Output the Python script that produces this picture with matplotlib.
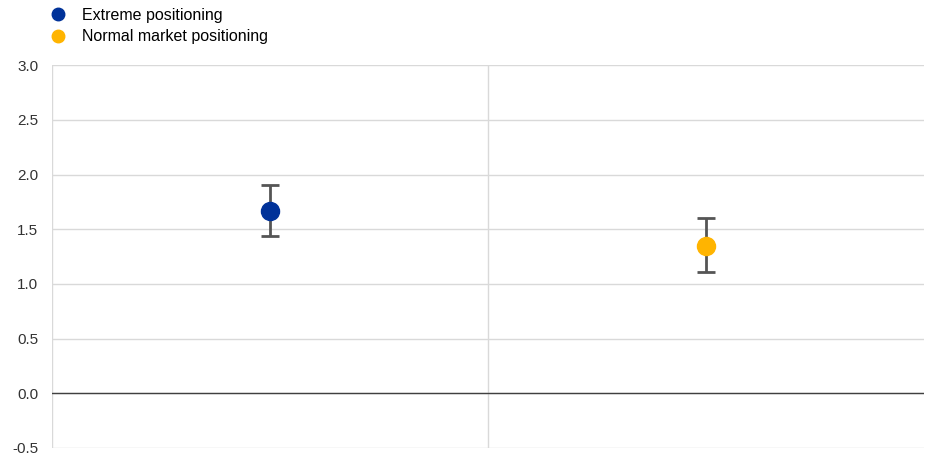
import matplotlib
matplotlib.use("Agg")
import matplotlib.pyplot as plt
from matplotlib.lines import Line2D

plt.rcParams["font.family"] = ["Liberation Sans", "DejaVu Sans"]

labels = ["Extreme positioning", "Normal market positioning"]
estimate = [1.67, 1.345]
upper = [1.905, 1.60]
lower = [1.435, 1.105]
colors = ["#003299", "#ffb400"]

fig = plt.figure(figsize=(9.25, 4.59), dpi=100)
ax = fig.add_axes([0.0562, 0.024, 0.9428, 0.834])

xs = [0.5, 1.5]
for x, est, hi, lo, c in zip(xs, estimate, upper, lower, colors):
    ax.errorbar([x], [est], yerr=[[est - lo], [hi - est]], fmt="none",
                ecolor="#555555", elinewidth=2, capsize=6.5, capthick=2, zorder=3)
    ax.plot([x], [est], "o", color=c, markersize=13, zorder=4)

ax.set_xlim(0, 2)
ax.set_ylim(-0.5, 3.0)
ax.set_yticks([-0.5, 0.0, 0.5, 1.0, 1.5, 2.0, 2.5, 3.0])
ax.set_yticklabels([f"{v:.1f}" for v in ax.get_yticks()])
ax.set_xticks([])
ax.grid(axis="y", color="#d9d9d9", linewidth=1)
for xv in [0, 1]:
    ax.axvline(xv, color="#d9d9d9", linewidth=1, zorder=0)
ax.axhline(0, color="#404040", linewidth=1, zorder=2)
ax.set_axisbelow(True)
for s in ax.spines.values():
    s.set_visible(False)
ax.tick_params(axis="y", length=0, pad=10, labelsize=11, labelcolor="#333333")

handles = [Line2D([], [], marker="o", linestyle="none", color=c, markersize=9) for c in colors]
fig.legend(handles, labels, loc="upper left", bbox_to_anchor=(0.0385, 1.014),
           frameon=False, fontsize=11.5, handletextpad=1.0, labelspacing=0.4,
           handlelength=1.0)

fig.savefig("out.png", dpi=100)
